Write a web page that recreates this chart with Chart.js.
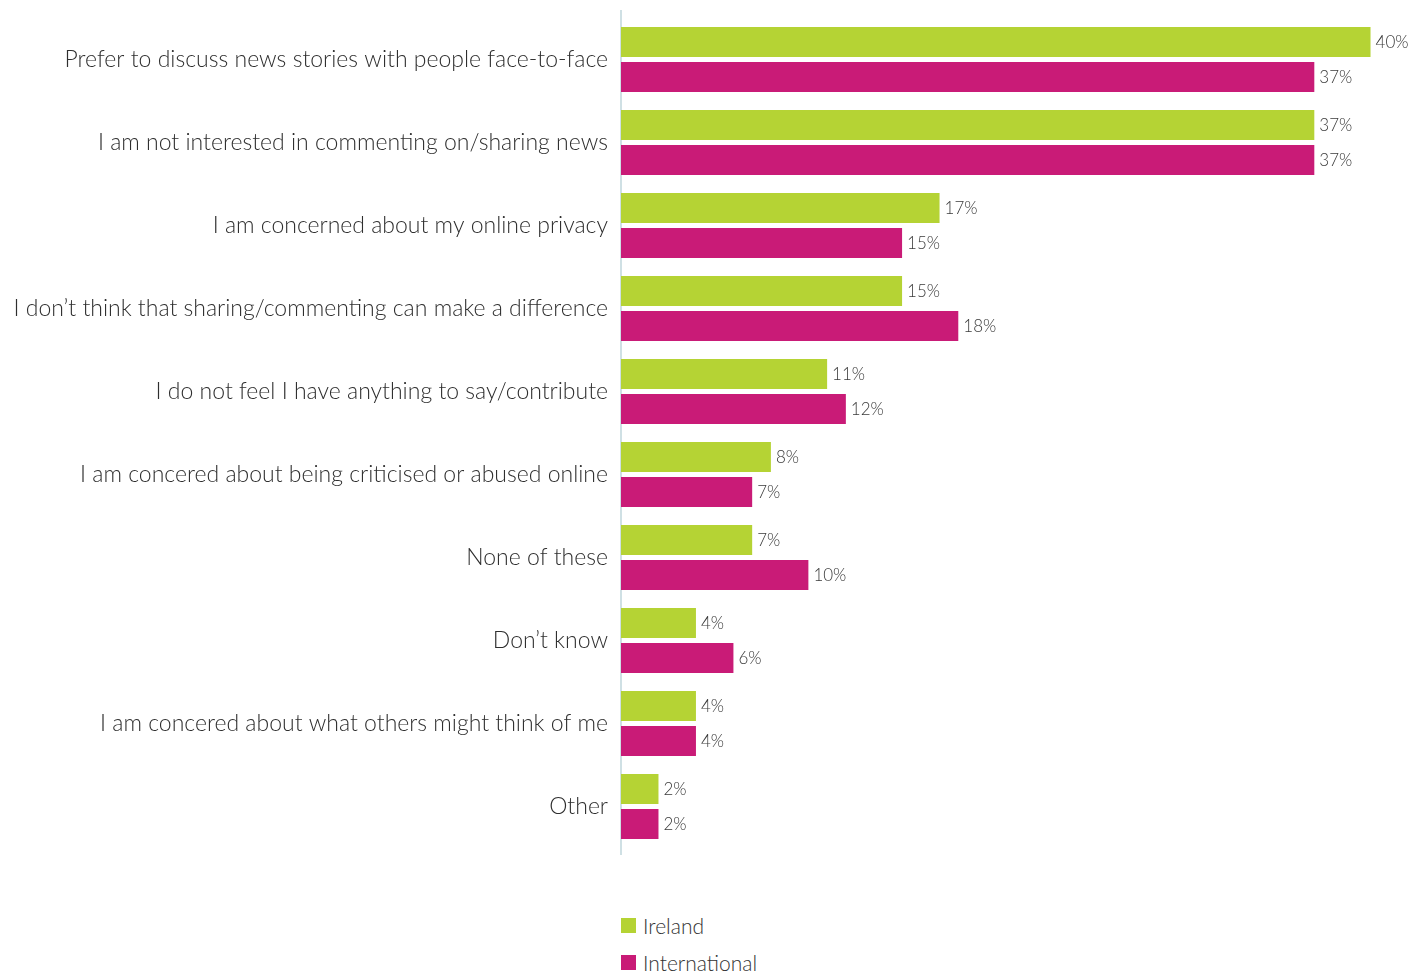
<!DOCTYPE html>
<html>
<head>
<meta charset="utf-8">
<script src="https://cdn.jsdelivr.net/npm/chart.js@4.4.1/dist/chart.umd.min.js"></script>
<style>
  html, body { margin: 0; padding: 0; background: #fff; }
  body { width: 1424px; height: 974px; overflow: hidden; font-family: Lato, sans-serif; font-weight: 300; }
  #wrap { position: relative; width: 1424px; height: 868px; }
  #legend { position: absolute; left: 621px; top: 907px; color: #333; font-size: 21px; }
  #legend div { display: flex; align-items: center; height: 37px; }
  #legend span.box { display: inline-block; width: 15px; height: 15px; margin-right: 7px; }
</style>
</head>
<body>
<div id="wrap"><canvas id="chart"></canvas></div>
<div id="legend"></div>
<script>
const categories = [
  'Prefer to discuss news stories with people face-to-face',
  'I am not interested in commenting on/sharing news',
  'I am concerned about my online privacy',
  'I don\u2019t think that sharing/commenting can make a difference',
  'I do not feel I have anything to say/contribute',
  'I am concered about being criticised or abused online',
  'None of these',
  'Don\u2019t know',
  'I am concered about what others might think of me',
  'Other'
];
const ireland = [40, 37, 17, 15, 11, 8, 7, 4, 4, 2];
const international = [37, 37, 15, 18, 12, 7, 10, 6, 4, 2];

const GREEN = '#b5d334';
const MAGENTA = '#c91b77';
const FONT = 'Lato';

// writes "NN%" just past the end of each bar
const valueLabels = {
  id: 'valueLabels',
  afterDatasetsDraw(chart) {
    const ctx = chart.ctx;
    ctx.save();
    ctx.font = '300 17px ' + FONT;
    ctx.fillStyle = '#3a3a3a';
    ctx.textBaseline = 'middle';
    chart.data.datasets.forEach((ds, i) => {
      chart.getDatasetMeta(i).data.forEach((bar, j) => {
        ctx.fillText(ds.data[j] + '%', bar.x + 5, bar.y + 1);
      });
    });
    ctx.restore();
  }
};

// zero line, a little taller than the plot area
const baseLine = {
  id: 'baseLine',
  beforeDatasetsDraw(chart) {
    const { ctx, chartArea } = chart;
    const x = chart.scales.x.getPixelForValue(0);
    ctx.save();
    ctx.strokeStyle = '#cfe0e4';
    ctx.lineWidth = 2;
    ctx.beginPath();
    ctx.moveTo(x, chartArea.top - 8);
    ctx.lineTo(x, chartArea.bottom + 7);
    ctx.stroke();
    ctx.restore();
  }
};

const chart = new Chart(document.getElementById('chart').getContext('2d'), {
  type: 'bar',
  data: {
    labels: categories,
    datasets: [
      { label: 'Ireland', data: ireland, backgroundColor: GREEN },
      { label: 'International', data: international, backgroundColor: MAGENTA }
    ]
  },
  options: {
    indexAxis: 'y',
    responsive: true,
    maintainAspectRatio: false,
    animation: false,
    categoryPercentage: 0.843,
    barPercentage: 0.857,
    layout: { padding: { top: 18, bottom: 20, right: 16, left: 0 } },
    plugins: {
      legend: { display: false },
      tooltip: { enabled: false }
    },
    scales: {
      x: { display: false, min: 0, max: 42 },
      y: {
        afterFit(scale) {
          scale.width = 621;
          scale.paddingTop = 0;
          scale.paddingBottom = 0;
        },
        grid: { display: false, drawTicks: false },
        border: { display: false },
        ticks: { color: '#2e2e2e', padding: 13, font: { family: FONT, size: 23, weight: 300 } }
      }
    }
  },
  plugins: [valueLabels, baseLine]
});

// legend below the plot, one row per dataset
document.getElementById('legend').innerHTML = chart.data.datasets.map(ds =>
  `<div><span class="box" style="background:${ds.backgroundColor}"></span>${ds.label}</div>`
).join('');
</script>
</body>
</html>
